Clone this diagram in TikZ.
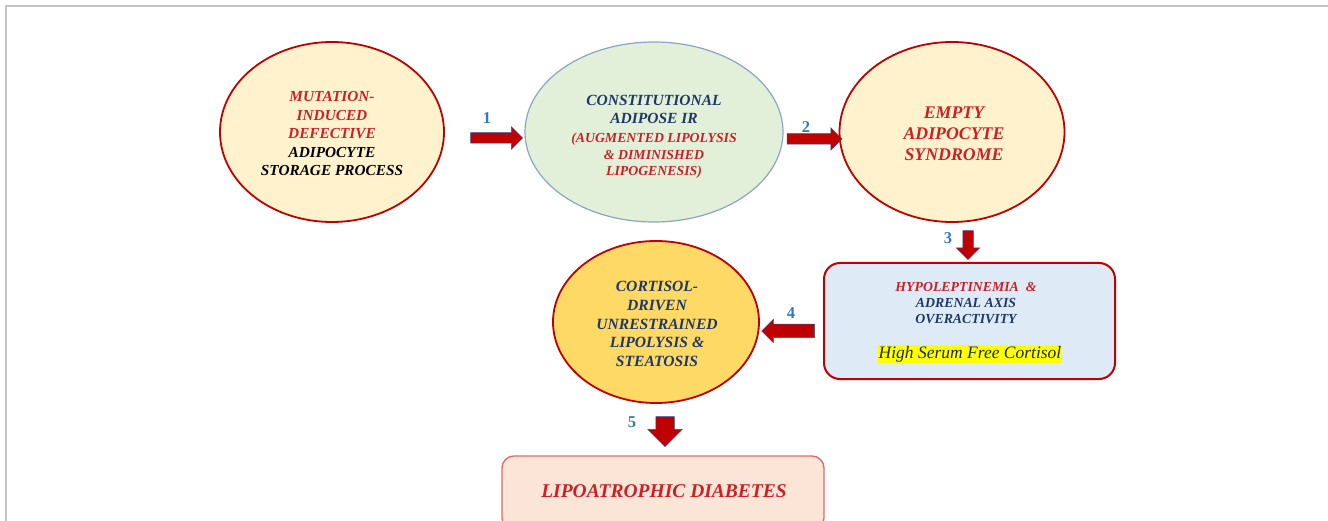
\documentclass[tikz,border=0pt]{standalone}
\usepackage{fontspec}
\setmainfont{Liberation Serif}
\usetikzlibrary{shapes.geometric,shapes.arrows}
\definecolor{tred}{HTML}{CC1F26}
\definecolor{navy}{HTML}{1F3864}
\definecolor{numblue}{HTML}{2E7BC4}
\definecolor{arrred}{HTML}{C00000}
\definecolor{arrline}{HTML}{2F4F8F}
\definecolor{cream}{HTML}{FFF2CC}
\definecolor{mint}{HTML}{E2F0D9}
\definecolor{mintline}{HTML}{8AA4C8}
\definecolor{gold}{HTML}{FFD966}
\definecolor{paleblue}{HTML}{DEEBF7}
\definecolor{pink}{HTML}{FBE5D6}
\definecolor{pinkline}{HTML}{E06A6A}
\definecolor{framegray}{HTML}{C4C4C4}
\definecolor{hl}{HTML}{FFFF00}
\definecolor{hltext}{HTML}{1E2A30}
\begin{document}
\begin{tikzpicture}[x=1pt,y=-1pt,
  oval/.style={ellipse, inner sep=0pt, line width=1.8pt},
  txt/.style={align=center, inner sep=0pt, font=\bfseries\itshape},
  blk/.style={single arrow, draw=arrline, line width=0.5pt, fill=arrred, inner sep=0pt, minimum width=0pt},
  num/.style={font=\fontsize{16.5}{16.5}\selectfont\bfseries, text=numblue, inner sep=0pt}]
\useasboundingbox (0,0) rectangle (1328,521);
\draw[framegray, line width=1.5pt] (6,521) -- (6,6) -- (1328,6);

% ellipses
\node[oval, draw=arrred, fill=cream, minimum width=224pt, minimum height=180pt] (e1) at (332,132) {};
\node[oval, draw=mintline, fill=mint, line width=1.2pt, minimum width=258pt, minimum height=180pt] (e2) at (654,132) {};
\node[oval, draw=arrred, fill=cream, minimum width=225pt, minimum height=180pt] (e3) at (952,132) {};
\node[oval, draw=arrred, fill=gold, minimum width=206pt, minimum height=162pt] (e4) at (656,322) {};

% boxes
\node[draw=arrred, fill=paleblue, line width=2pt, rounded corners=16pt, minimum width=291pt, minimum height=116pt, inner sep=0pt] (r1) at (969.5,321) {};
\node[draw=pinkline, fill=pink, line width=1.4pt, rounded corners=12pt, minimum width=322pt, minimum height=74pt, inner sep=0pt] (r2) at (663,493) {};

% texts
\node[txt, font=\fontsize{15.3}{18.5}\selectfont\bfseries\itshape] (t1) at (332,134)
  {\textcolor{tred}{MUTATION-}\\\textcolor{tred}{INDUCED}\\\textcolor{tred}{DEFECTIVE}\\ADIPOCYTE\\STORAGE PROCESS};
\node[txt, font=\fontsize{15.5}{18.5}\selectfont\bfseries\itshape] (t2) at (654,137)
  {\textcolor{navy}{CONSTITUTIONAL}\\\textcolor{navy}{ADIPOSE IR}\\[0.5pt]
   {\fontsize{13.8}{16}\selectfont\textcolor{tred}{(AUGMENTED LIPOLYSIS}}\\[-2pt]
   {\fontsize{13.8}{16}\selectfont\textcolor{tred}{\& DIMINISHED}}\\[-2pt]
   {\fontsize{13.8}{16}\selectfont\textcolor{tred}{LIPOGENESIS)}}};
\node[txt, text=tred, font=\fontsize{17.8}{21}\selectfont\bfseries\itshape] (t3) at (954,134)
  {EMPTY\\ADIPOCYTE\\SYNDROME};
\node[txt, text=navy, font=\fontsize{15.6}{18.7}\selectfont\bfseries\itshape] (t4) at (657,324)
  {CORTISOL-\\DRIVEN\\UNRESTRAINED\\LIPOLYSIS \&\\STEATOSIS};
\node[txt, font=\fontsize{13.8}{16}\selectfont\bfseries\itshape] (t5) at (966,303)
  {\textcolor{tred}{HYPOLEPTINEMIA~~\&}\\\textcolor{navy}{ADRENAL AXIS}\\\textcolor{navy}{OVERACTIVITY}};
\node[fill=hl, inner xsep=1pt, inner ysep=1.5pt, text=hltext, font=\fontsize{17.5}{19}\selectfont\itshape] (t6) at (970,354)
  {High Serum Free Cortisol};
\node[txt, text=tred, font=\fontsize{19.5}{21}\selectfont\bfseries\itshape] (t7) at (664,491)
  {LIPOATROPHIC DIABETES};

% block arrows
\node[blk, inner ysep=5pt, single arrow head extend=6pt, minimum height=52pt] (a1) at (494,138) {};
\node[blk, inner ysep=5pt, single arrow head extend=6pt, minimum height=55pt] (a2) at (812,139) {};
\node[blk, inner xsep=5pt, single arrow head extend=6.5pt, minimum height=29pt, shape border rotate=270] (a3) at (968,242.5) {};
\node[blk, inner ysep=6.5pt, single arrow head extend=5pt, minimum height=53pt, shape border rotate=180] (a4) at (791.5,331) {};
\node[blk, inner xsep=9pt, single arrow head extend=8pt, minimum height=30pt, shape border rotate=270] (a5) at (665,427) {};

% step numbers
\node[num] (n1) at (487,118) {1};
\node[num] (n2) at (806,127) {2};
\node[num] (n3) at (948,238) {3};
\node[num] (n4) at (791,313) {4};
\node[num] (n5) at (632,422) {5};
\end{tikzpicture}
\end{document}
